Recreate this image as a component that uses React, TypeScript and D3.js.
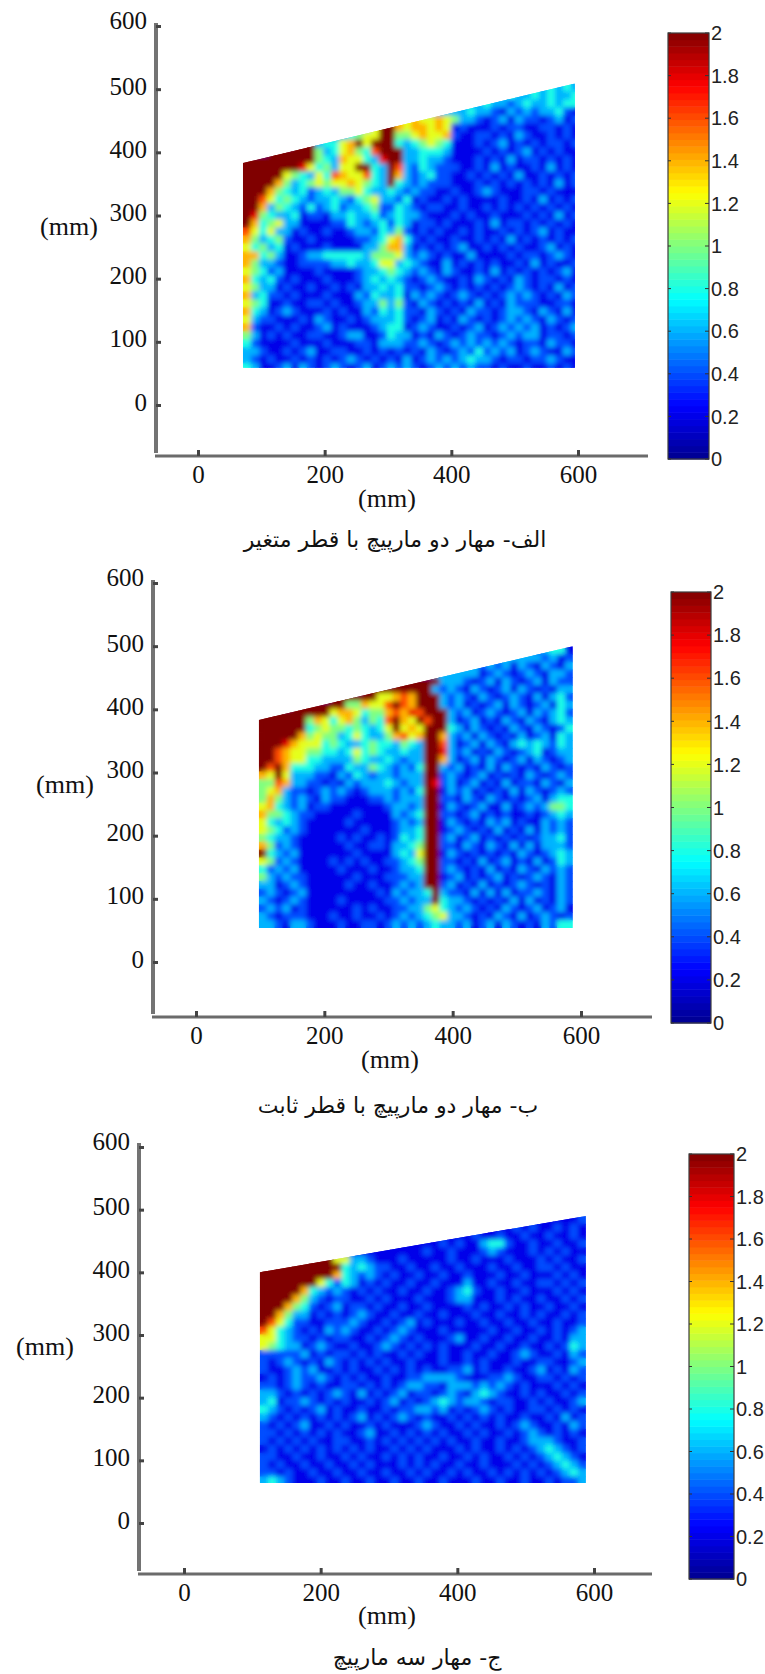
import * as React from "react"
import * as d3 from "d3"

const W = 765
const H = 1674

const yTicks = [0, 100, 200, 300, 400, 500, 600]
const xTicks = [0, 200, 400, 600]
const colorbarTicks = [0, 0.2, 0.4, 0.6, 0.8, 1, 1.2, 1.4, 1.6, 1.8, 2]

const jetStops = [0, 0.25, 0.75, 1.25, 1.75, 2]
const jetColors = ["#00008f", "#0000ff", "#00ffff", "#ffff00", "#ff0000", "#800000"]

const captionA = "الف- مهار دو مارپیچ با قطر متغیر"
const captionB = "ب- مهار دو مارپیچ با قطر ثابت"
const captionC = "ج- مهار سه مارپیچ"

// specimen outlines, mm
const outlineA = [[71, 59], [71, 383], [595, 509], [595, 59]]
const outlineB = [[98, 54], [98, 383], [587, 500], [587, 54]]
const outlineC = [[111, 64], [111, 400], [588, 490], [588, 64]]

// strain, one digit per cell, digit / 5 = value, a = 2
const cellsA = [
  "111111 111111 111111 111111 111111 113344 434343",
  "111111 111111 111111 111111 111111 333433 434334",
  "111111 111111 111111 111111 113333 433234 334344",
  "111111 111111 111111 111111 333343 321323 233421",
  "111111 111111 111111 a76766 765332 123132 212312",
  "111111 111111 11136a a76776 761211 121221 122121",
  "111111 111111 34566a a55676 672112 212132 112121",
  "111111 aaa344 67a6aa a43456 541112 123121 212212",
  "111aaa aaa534 67548a aa3344 431111 212123 121211",
  "aaaaaa aaa543 766439 aa3343 321112 121312 212121",
  "aaaaaa a96453 66aa43 a83243 222112 131211 213121",
  "aaaaa6 543648 766843 a73234 221121 212131 121212",
  "aaaa75 345656 676543 a43232 221112 121212 121312",
  "aaa754 342343 556433 432322 112112 321112 212111",
  "aa8645 432334 324563 324121 121211 112112 131212",
  "aa7354 324234 233452 243212 211211 212121 212121",
  "a95433 412213 343342 343321 112121 121112 121312",
  "a74563 311112 243234 243122 121112 131221 212121",
  "864633 121121 123324 352121 211212 112121 231211",
  "753452 112111 112234 674212 112112 121312 121212",
  "645341 211121 111335 773121 212311 212121 123121",
  "774531 123344 444355 563232 121131 111212 212321",
  "753321 122223 343346 634321 131212 121121 312112",
  "654231 111211 112334 543232 132112 131212 121231",
  "743421 211121 112343 432123 211213 212132 122121",
  "653312 112112 121334 342212 321212 121232 121312",
  "734221 211121 113243 341323 212321 212323 212132",
  "654112 112212 112335 352132 121213 121322 211221",
  "743123 211121 211324 342213 212132 212332 132131",
  "632211 121321 121233 342123 121321 212323 213212",
  "721121 211231 211123 441232 112123 123232 312123",
  "531212 112211 233112 433121 321232 212323 312212",
  "421111 211121 112213 332232 123232 323212 213221",
  "332112 123112 211212 121213 212324 232312 321132",
  "321211 212121 232121 213123 232343 321221 223211",
  "431123 132123 212312 323212 323232 212112 112121",
]

const cellsB = [
  "11111 11111 11111 11111 11111 11111 11333 23441",
  "11111 11111 11111 11111 11111 11113 33333 32312",
  "11111 11111 11111 11111 11113 33323 23132 13213",
  "11111 11111 11111 11111 11333 33312 32123 21332",
  "11111 11111 11111 11aaa aaa33 32123 13212 31322",
  "11111 11111 111aa aaaaa aa323 21321 23132 12133",
  "11111 1111a aaaaa 66787 aaa32 32132 12321 31342",
  "1111a aaaaa a5576 68a87 aaa32 31212 31321 23143",
  "aaaaa aaaa6 77645 57879 8aaa3 23123 21231 32342",
  "aaaaa a5764 67535 48a76 a8aa3 12312 13213 21343",
  "aaaaa a4565 54543 46a67 6aaa4 31321 21321 32124",
  "aaaaa 75655 34643 35786 7aa73 23132 12131 23143",
  "aaa97 66645 43345 44354 3aa83 12313 21343 43243",
  "aa876 65544 34645 43343 3aa93 23121 32123 41233",
  "aa876 64433 33543 34323 3aa73 12313 21231 32123",
  "a8a74 44332 24335 43232 4aa32 31213 13212 13212",
  "76a63 33221 32432 33233 3aa23 21231 21213 21232",
  "55873 32212 13233 34323 3a923 12312 13122 13213",
  "56732 21232 32123 33232 4aa13 23121 21313 21232",
  "57532 32132 21112 23233 3aa22 13213 21212 31344",
  "67432 31221 11111 12332 3aa13 21231 13123 23554",
  "75543 22111 11211 11323 4aa22 12312 12112 12343",
  "64343 21111 12111 11232 3aa13 21213 23121 13232",
  "65423 21111 11121 11233 4aa12 32121 31213 13232",
  "54332 11111 21211 21243 4aa23 12312 12121 23342",
  "75232 11111 12112 21334 5aa22 13213 21313 13332",
  "a4323 11111 11211 11343 6aa13 21212 12132 12343",
  "65232 11112 12121 12234 5aa22 12131 23121 31243",
  "42323 11111 21112 11233 4aa23 21213 12132 13232",
  "53232 21111 11211 12223 3aa12 31212 31212 32132",
  "33123 21111 12112 11232 3aa23 12131 21232 12132",
  "23212 31111 11111 21323 34a32 21313 13122 32132",
  "32123 21111 21111 12232 33a43 32121 21313 12132",
  "23231 21111 11212 11223 35643 23212 13212 31231",
  "32122 21112 11211 21232 34563 32121 32131 23212",
  "33213 32111 21122 12323 23433 23123 13212 13244",
]

const cellsC = [
  "11111 11111 11111 11111 11111 11111 11111 11112",
  "11111 11111 11111 11111 11111 11111 12121 12121",
  "11111 11111 11111 11111 11111 12112 11211 21121",
  "11111 11111 11111 11111 11212 11344 21121 12112",
  "11111 11111 11111 11111 21121 11232 11121 21211",
  "aaaaa aaaa6 63321 11211 11121 12111 21112 12112",
  "aaaaa aaaaa 43432 21121 12112 11121 12112 21211",
  "aaaaa aaaa7 43232 12112 11211 21112 11211 12121",
  "aaaaa aa642 43121 21121 12111 31121 12112 21212",
  "aaaaa 74323 21212 11211 21123 42112 11211 12121",
  "aaaa7 53212 21121 21112 11123 31112 12112 11212",
  "aaa75 42123 12212 11211 21111 21211 21211 21121",
  "aa753 31212 12321 12112 11211 12112 11212 11212",
  "a8642 21122 23211 21231 21112 11211 21121 12112",
  "86432 12132 32112 12321 11211 11121 12112 12123",
  "66432 21212 21121 23212 11123 11211 21121 12133",
  "65433 12321 12112 32121 21211 12112 11211 21243",
  "22222 31212 21212 11212 11211 21121 12321 12132",
  "21232 12132 12121 21121 11211 21211 12112 21123",
  "21123 23112 12112 12121 21122 31211 21123 12132",
  "12123 22321 21211 21122 33332 11122 32112 21212",
  "22123 21211 22121 21233 22133 32323 21211 12121",
  "33212 12123 21312 12312 21232 13432 11212 11212",
  "34122 32121 21121 23121 23432 33212 21121 21123",
  "43212 12312 11211 21223 32312 12321 21122 12121",
  "32121 21212 12312 12321 21121 21212 11211 21312",
  "21212 31121 21121 21112 32112 12112 12321 12132",
  "22121 21212 11231 12121 21211 21211 21232 12121",
  "21212 12112 21121 21212 12121 12112 11233 32112",
  "12121 21212 12121 12121 21112 12112 12123 43212",
  "22112 11211 21211 21212 11211 21211 21212 34321",
  "21211 21121 12121 11212 12112 11211 12121 23432",
  "22121 12112 11211 21121 21121 21121 21212 12343",
  "34321 11211 21121 12112 11211 12112 11211 21223",
]

const panels = [
  {
    id: "a",
    cells: cellsA,
    outline: outlineA,
    cellW: 12.63,
    cellH: 12.66,
    topMm: 509,
    x0: 198,
    x600: 578,
    y0: 405,
    y600: 26,
    axisX: 156,
    axisY: 456,
    axisTop: 23,
    axisRight: 648,
    xLabel: [387, 499],
    yLabel: [69, 227],
    bar: { left: 668, right: 709, top: 33, bottom: 459 },
    caption: captionA,
    captionPos: [395, 540],
  },
  {
    id: "b",
    cells: cellsB,
    outline: outlineB,
    cellW: 12.23,
    cellH: 12.39,
    topMm: 500,
    x0: 196,
    x600: 581,
    y0: 962,
    y600: 583,
    axisX: 153,
    axisY: 1017,
    axisTop: 580,
    axisRight: 652,
    xLabel: [390, 1060],
    yLabel: [65, 785],
    bar: { left: 671, right: 711, top: 592, bottom: 1023 },
    caption: captionB,
    captionPos: [398, 1106],
  },
  {
    id: "c",
    cells: cellsC,
    outline: outlineC,
    cellW: 11.93,
    cellH: 12.6,
    topMm: 490,
    x0: 184,
    x600: 594,
    y0: 1523,
    y600: 1147,
    axisX: 139,
    axisY: 1574,
    axisTop: 1143,
    axisRight: 652,
    xLabel: [387, 1616],
    yLabel: [45, 1347],
    bar: { left: 689, right: 734, top: 1154, bottom: 1579 },
    caption: captionC,
    captionPos: [417, 1658],
  },
]

const jet = d3.scaleLinear<string>().domain(jetStops).range(jetColors)

function digitValue(ch: string) {
  return ch === "a" ? 2 : +ch / 5
}

function drawCells(
  g: d3.Selection<SVGGElement, unknown, null, undefined>,
  rows: number[][],
  p: (typeof panels)[number],
  x: d3.ScaleLinear<number, number>,
  y: d3.ScaleLinear<number, number>
) {
  const left = d3.min(p.outline, (d) => d[0]) as number
  g.selectAll("g")
    .data(rows)
    .join("g")
    .each(function (row, j) {
      d3.select(this)
        .selectAll("rect")
        .data(row)
        .join("rect")
        .attr("x", (_d, i) => x(left + i * p.cellW))
        .attr("y", y(p.topMm - j * p.cellH))
        .attr("width", x(p.cellW) - x(0) + 0.6)
        .attr("height", y(0) - y(p.cellH) + 0.6)
        .attr("fill", (d) => jet(d))
    })
}

function drawPanel(
  root: d3.Selection<SVGSVGElement, unknown, null, undefined>,
  p: (typeof panels)[number]
) {
  const x = d3.scaleLinear().domain([0, 600]).range([p.x0, p.x600])
  const y = d3.scaleLinear().domain([0, 600]).range([p.y0, p.y600])
  const rows = p.cells.map((r) => r.replace(/ /g, "").split("").map(digitValue))

  const line = d3
    .line<number[]>()
    .x((d) => x(d[0]))
    .y((d) => y(d[1]))

  root
    .select("defs")
    .append("clipPath")
    .attr("id", `clip-${p.id}`)
    .append("path")
    .attr("d", line(p.outline) + "Z")

  const field = root.append("g").attr("clip-path", `url(#clip-${p.id})`)
  drawCells(field.append("g"), rows, p, x, y)
  drawCells(field.append("g").attr("filter", "url(#soft)"), rows, p, x, y)

  // axes
  const serif = "'Liberation Serif', serif"
  root
    .append("line")
    .attr("x1", p.axisX)
    .attr("x2", p.axisX)
    .attr("y1", p.axisTop)
    .attr("y2", p.axisY - 3)
    .attr("stroke", "#737373")
    .attr("stroke-width", 4)
  root
    .append("line")
    .attr("x1", p.axisX - 1)
    .attr("x2", p.axisRight)
    .attr("y1", p.axisY)
    .attr("y2", p.axisY)
    .attr("stroke", "#6b6b6b")
    .attr("stroke-width", 3)

  const yAxis = root
    .append("g")
    .attr("transform", `translate(${p.axisX},0)`)
    .call(d3.axisLeft(y).tickValues(yTicks).tickFormat(d3.format("d")).tickSize(-5).tickPadding(9))
  const xAxis = root
    .append("g")
    .attr("transform", `translate(0,${p.axisY})`)
    .call(d3.axisBottom(x).tickValues(xTicks).tickFormat(d3.format("d")).tickSize(-6).tickPadding(9))

  for (const axis of [xAxis, yAxis]) {
    axis.select(".domain").remove()
    axis.selectAll(".tick line").attr("stroke", "#444").attr("stroke-width", 3)
    axis
      .selectAll(".tick text")
      .attr("font-family", serif)
      .attr("font-size", 25)
      .attr("fill", "#111")
  }
  // the labels sit a little above their ticks in the original
  yAxis.selectAll<SVGTextElement, number>(".tick text").attr("y", (d) => (d === 600 ? -6 : -3))

  root
    .append("text")
    .attr("x", p.xLabel[0])
    .attr("y", p.xLabel[1])
    .attr("dy", "0.32em")
    .attr("text-anchor", "middle")
    .attr("font-family", serif)
    .attr("font-size", 26)
    .attr("fill", "#111")
    .text("(mm)")
  root
    .append("text")
    .attr("x", p.yLabel[0])
    .attr("y", p.yLabel[1])
    .attr("dy", "0.32em")
    .attr("text-anchor", "middle")
    .attr("font-family", serif)
    .attr("font-size", 26)
    .attr("fill", "#111")
    .text("(mm)")

  // colorbar
  const barY = d3.scaleLinear().domain([0, 2]).range([p.bar.bottom, p.bar.top])
  const levels = d3.range(64).map((i) => (i / 64) * 2)
  root
    .append("g")
    .selectAll("rect")
    .data(levels)
    .join("rect")
    .attr("x", p.bar.left)
    .attr("width", p.bar.right - p.bar.left)
    .attr("y", (d) => barY(d + 2 / 64))
    .attr("height", barY(0) - barY(2 / 64) + 0.5)
    .attr("fill", (d) => jet(d + 1 / 64))
  root
    .append("rect")
    .attr("x", p.bar.left)
    .attr("y", p.bar.top)
    .attr("width", p.bar.right - p.bar.left)
    .attr("height", p.bar.bottom - p.bar.top)
    .attr("fill", "none")
    .attr("stroke", "#3c3c3c")
    .attr("stroke-width", 1.2)

  const barTicks = root.append("g").selectAll("g").data(colorbarTicks).join("g")
  barTicks
    .append("line")
    .attr("x1", p.bar.left)
    .attr("x2", p.bar.left + 3)
    .attr("y1", (d) => barY(d))
    .attr("y2", (d) => barY(d))
    .attr("stroke", "#333")
  barTicks
    .append("line")
    .attr("x1", p.bar.right - 4)
    .attr("x2", p.bar.right)
    .attr("y1", (d) => barY(d))
    .attr("y2", (d) => barY(d))
    .attr("stroke", "#333")
  barTicks
    .append("text")
    .attr("x", p.bar.right + 2)
    .attr("y", (d) => barY(d))
    .attr("dy", "0.36em")
    .attr("font-family", "'Liberation Sans', sans-serif")
    .attr("font-size", 20)
    .attr("fill", "#222")
    .text((d) => String(d))

  root
    .append("text")
    .attr("x", p.captionPos[0])
    .attr("y", p.captionPos[1])
    .attr("dy", "0.32em")
    .attr("text-anchor", "middle")
    .attr("direction", "rtl")
    .attr("font-family", "'DejaVu Sans', sans-serif")
    .attr("font-size", 22)
    .attr("fill", "#111")
    .text(p.caption)
}

export default function App(): React.JSX.Element {
  const svgRef = React.useRef<SVGSVGElement>(null)

  React.useEffect(() => {
    const root = d3.select(svgRef.current as SVGSVGElement)
    root.selectAll("*").remove()
    const defs = root.append("defs")
    defs
      .append("filter")
      .attr("id", "soft")
      .attr("filterUnits", "userSpaceOnUse")
      .attr("x", 0)
      .attr("y", 0)
      .attr("width", W)
      .attr("height", H)
      .append("feGaussianBlur")
      .attr("stdDeviation", 2.4)
    panels.forEach((p) => drawPanel(root, p))
  }, [])

  return (
    <svg
      ref={svgRef}
      width={W}
      height={H}
      style={{ position: "absolute", left: 0, top: 0, background: "#fff" }}
    />
  )
}
